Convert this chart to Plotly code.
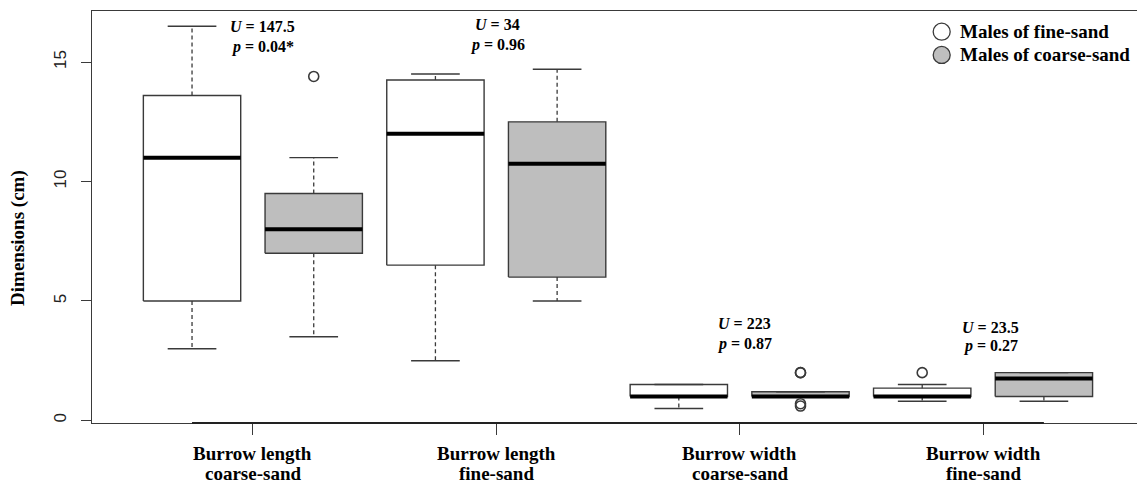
import plotly.graph_objects as go

# Burrow dimensions by group; each group shows fine-sand males then coarse-sand males
groups = [("Burrow length", "coarse-sand"), ("Burrow length", "fine-sand"),
          ("Burrow width", "coarse-sand"), ("Burrow width", "fine-sand")]
series_names = ["Males of fine-sand", "Males of coarse-sand"]

# five-number summaries (cm)
fine_lower = [3.0, 2.5, 0.5, 0.8]
fine_q1 = [5.0, 6.5, 1.0, 1.0]
fine_median = [11.0, 12.0, 1.0, 1.0]
fine_q3 = [13.6, 14.25, 1.5, 1.35]
fine_upper = [16.5, 14.5, 1.5, 1.5]
fine_outliers = [[], [], [], [2.0]]

coarse_lower = [3.5, 5.0, 1.0, 0.8]
coarse_q1 = [7.0, 6.0, 1.0, 1.0]
coarse_median = [8.0, 10.75, 1.0, 1.75]
coarse_q3 = [9.5, 12.5, 1.2, 2.0]
coarse_upper = [11.0, 14.7, 1.2, 2.0]
coarse_outliers = [[14.4], [], [2.0, 2.0, 0.7, 0.6], []]

# Mann-Whitney results per group
u_values = ["147.5", "34", "223", "23.5"]
p_values = ["0.04*", "0.96", "0.87", "0.27"]
u_y = [16.49, 16.56, 4.05, 3.91]
p_y = [15.65, 15.72, 3.21, 3.10]
label_x = [1.575, 3.51, 5.54, 7.565]

fills = ["white", "#bebebe"]
EDGE = "#3a3a3a"
SERIF = "Liberation Serif"
HALF = 0.4     # half box width
CAP = 0.2      # half staple width

stats = [
    (fine_lower, fine_q1, fine_median, fine_q3, fine_upper, fine_outliers),
    (coarse_lower, coarse_q1, coarse_median, coarse_q3, coarse_upper, coarse_outliers),
]

fig = go.Figure()

for s, (lo, q1, med, q3, hi, outs) in enumerate(stats):
    for g in range(len(groups)):
        x = 2 * g + 1 + s
        # box body
        fig.add_trace(go.Scatter(
            x=[x - HALF, x + HALF, x + HALF, x - HALF, x - HALF],
            y=[q1[g], q1[g], q3[g], q3[g], q1[g]],
            mode="lines", fill="toself", fillcolor=fills[s],
            line=dict(color=EDGE, width=1.4), hoverinfo="skip", showlegend=False))
        # dashed whiskers
        wx, wy = [], []
        if hi[g] > q3[g]:
            wx += [x, x, None]; wy += [q3[g], hi[g], None]
        if lo[g] < q1[g]:
            wx += [x, x, None]; wy += [q1[g], lo[g], None]
        if wx:
            fig.add_trace(go.Scatter(
                x=wx, y=wy, mode="lines",
                line=dict(color=EDGE, width=1.3, dash="4px,3px"),
                hoverinfo="skip", showlegend=False))
        # staples
        fig.add_trace(go.Scatter(
            x=[x - CAP, x + CAP, None, x - CAP, x + CAP],
            y=[hi[g], hi[g], None, lo[g], lo[g]],
            mode="lines", line=dict(color=EDGE, width=1.4),
            hoverinfo="skip", showlegend=False))
        # median
        fig.add_trace(go.Scatter(
            x=[x - HALF, x + HALF], y=[med[g], med[g]],
            mode="lines", line=dict(color="black", width=4),
            hoverinfo="skip", showlegend=False))
        # outliers
        if outs[g]:
            fig.add_trace(go.Scatter(
                x=[x] * len(outs[g]), y=outs[g], mode="markers",
                marker=dict(symbol="circle-open", size=10, color=EDGE,
                            line=dict(width=1.6)),
                hoverinfo="skip", showlegend=False))

# key: circle swatch + bold label per series
key_x = 0.8131
key_y = [0.9498, 0.8933]
for s, name in enumerate(series_names):
    fig.add_shape(type="circle", xref="paper", yref="paper",
                  xsizemode="pixel", ysizemode="pixel",
                  xanchor=key_x, yanchor=key_y[s],
                  x0=-8.5, x1=8.5, y0=-8.5, y1=8.5,
                  fillcolor=fills[s], line=dict(color=EDGE, width=1.3))
    fig.add_annotation(x=key_x, xref="paper", xshift=16, xanchor="left",
                       y=key_y[s], yref="paper", yanchor="middle",
                       text=f"<b>{name}</b>", showarrow=False,
                       font=dict(family=SERIF, size=19, color="black"))

# test statistics
for g in range(len(groups)):
    fig.add_annotation(x=label_x[g], y=u_y[g], text=f"<b><i>U</i> = {u_values[g]}</b>",
                       showarrow=False, font=dict(family=SERIF, size=16, color="black"))
    fig.add_annotation(x=label_x[g], y=p_y[g], text=f"<b><i>p</i> = {p_values[g]}</b>",
                       showarrow=False, font=dict(family=SERIF, size=16, color="black"))

# two-line group labels under the ticks
tick_pos = [2 * g + 1.5 for g in range(len(groups))]
for g, (top, bottom) in enumerate(groups):
    for line, shift in ((top, -30), (bottom, -50)):
        fig.add_annotation(x=tick_pos[g], y=0, yref="paper", yanchor="middle",
                           yshift=shift, text=f"<b>{line}</b>", showarrow=False,
                           font=dict(family=SERIF, size=19, color="black"))

# y axis title
fig.add_annotation(x=0, xref="paper", xanchor="center", xshift=-74, y=7.64,
                   text="<b>Dimensions (cm)</b>", textangle=-90, showarrow=False,
                   font=dict(family=SERIF, size=19, color="black"))

# axis line spanning the boxes
fig.add_shape(type="line", x0=1, x1=8, y0=0, y1=0, yref="paper",
              line=dict(color="#222222", width=2))

fig.update_xaxes(
    range=[0.178, 8.765], showgrid=False, zeroline=False, automargin=False,
    showline=True, mirror=True, linecolor=EDGE, linewidth=1.3,
    tickmode="array", tickvals=tick_pos, ticktext=[""] * len(tick_pos),
    ticks="outside", ticklen=11, tickwidth=1.3, tickcolor=EDGE)
fig.update_yaxes(
    range=[-0.109, 17.14], showgrid=False, zeroline=False, automargin=False,
    showline=True, linecolor=EDGE, linewidth=1.3,
    tickvals=[0, 5, 10, 15], ticks="outside", ticklen=10, tickwidth=1.3,
    tickcolor=EDGE, tickangle=-90, ticklabelstandoff=8,
    tickfont=dict(family="Liberation Sans", size=17, color="#222222"))

fig.update_layout(
    width=1137, height=484,
    margin=dict(l=92, r=0, t=11, b=61),
    plot_bgcolor="white", paper_bgcolor="white",
    showlegend=False,
)

fig.write_html("out.html")
